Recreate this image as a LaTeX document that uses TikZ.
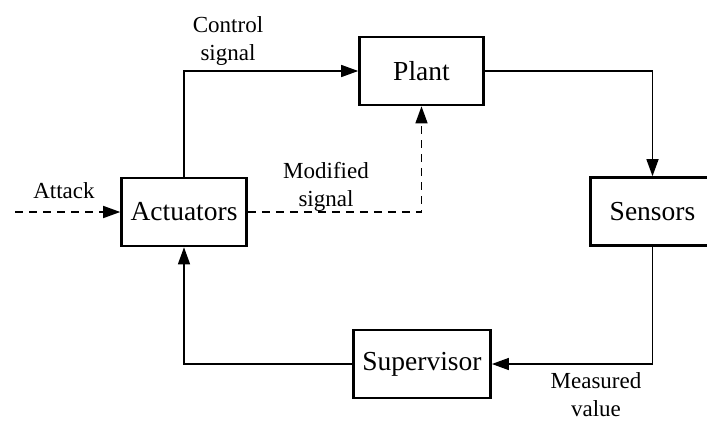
\documentclass[tikz,border=0pt]{standalone}
\usepackage{fontspec}
\setmainfont{Liberation Serif}
\usetikzlibrary{arrows.meta}
\tikzset{
  block/.style={draw=black, line width=2.6pt, minimum width=124pt,
    minimum height=68pt, inner xsep=9pt, font=\fontsize{27.5}{33}\selectfont},
  lbl/.style={align=center, inner sep=0pt, font=\fontsize{23}{28}\selectfont},
  link/.style={line width=1.4pt, -{Triangle[length=17pt,width=12pt]}},
  attack link/.style={link, dash pattern=on 8pt off 6pt}
}

\begin{document}
\begin{tikzpicture}[x=1pt,y=-1pt,line join=miter]
  \useasboundingbox (0,0) rectangle (707,421);

  % blocks
  \node[block] (act) at (184,212) {Actuators};
  \node[block] (plant) at (421.5,71) {Plant};
  \node[block] (sens) at (652.5,211.5) {Sensors};
  \node[block] (sup) at (422,364) {Supervisor};
  \coordinate (atk) at (15,212);

  % loop
  \draw[link] (act.north) |- (plant.west);
  \draw[link] (plant.east) -| (sens.north);
  \draw[link] (sens.south) |- (sup.east);
  \draw[link] (sup.west) -| (act.south);

  % attack path
  \draw[attack link] (atk) -- (act.west);
  \draw[attack link] (act.east) -| (plant.south);

  % labels
  \node[lbl] (lcs) at (228,40.7) {Control\\signal};
  \node[lbl] (lms) at (326,186.7) {Modified\\signal};
  \node[lbl] (lmv) at (596,395) {Measured\\value};
  \node[lbl, anchor=base] (latk) at (64,198) {Attack};
\end{tikzpicture}
\end{document}
